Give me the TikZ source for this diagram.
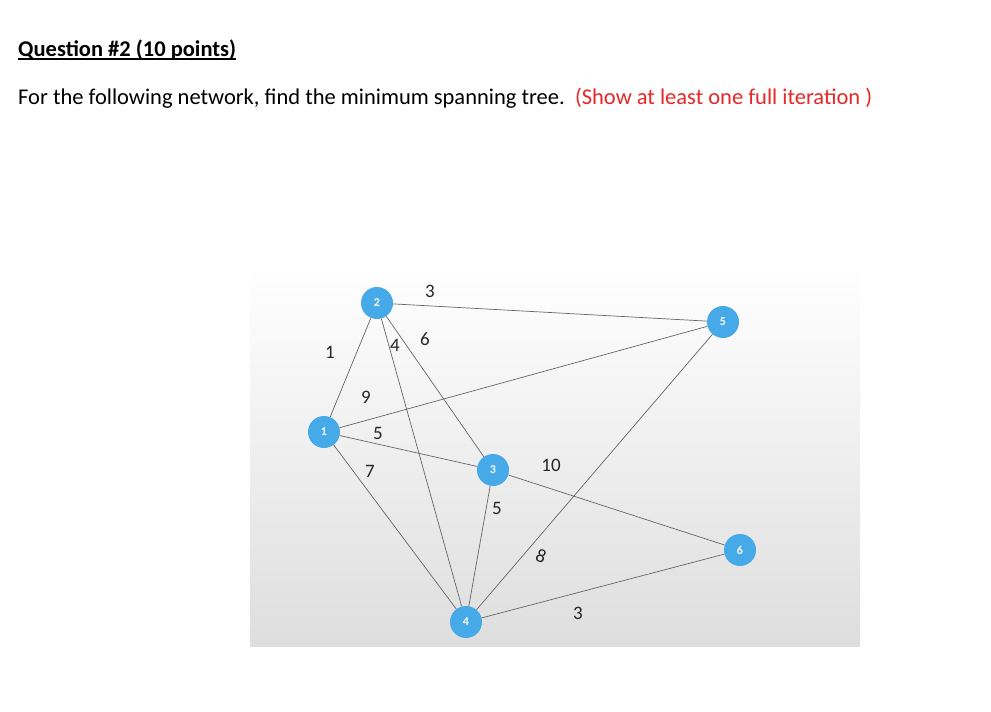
\documentclass[tikz,border=0pt]{standalone}
\usepackage{fontspec}
\setmainfont{Carlito}
\definecolor{nodeblue}{RGB}{70,170,232}
\definecolor{qred}{RGB}{230,40,40}
\begin{document}
\begin{tikzpicture}[x=1pt,y=-1pt,
  vtx/.style={circle,fill=nodeblue,minimum size=32pt,inner sep=0pt,text=white,font=\fontsize{12}{13}\selectfont\bfseries},
  wt/.style={font=\fontsize{19}{20}\selectfont,text=black!85,inner sep=1pt},
  edge/.style={draw=black!60,line width=0.7pt}]
\useasboundingbox (0,0) rectangle (991,712);
\fill[white] (0,0) rectangle (991,712);
\shade[top color=white,bottom color=black!13] (250,265) rectangle (860,646);
\node[anchor=base west,font=\fontsize{22.5}{26}\selectfont\bfseries,inner sep=0pt] (t1) at (18,56) {Question \#2 (10 points)};
\draw[line width=1.2pt] ([yshift=-3pt]t1.base west) -- ([yshift=-3pt]t1.base east);
\node[anchor=base west,font=\fontsize{22.5}{26}\selectfont,inner sep=0pt] (t2) at (18,104) {For the following network, find the minimum spanning tree.\ \ \textcolor{qred}{(Show at least one full iteration )}};
\node[vtx] (n1) at (324,432) {1};
\node[vtx] (n2) at (377,303) {2};
\node[vtx] (n3) at (493,470) {3};
\node[vtx] (n4) at (466,622) {4};
\node[vtx] (n5) at (723,322) {5};
\node[vtx] (n6) at (740,550) {6};
\draw[edge] (n1)--(n2);
\draw[edge] (n2)--(n5);
\draw[edge] (n2)--(n4);
\draw[edge] (n2)--(n3);
\draw[edge] (n1)--(n5);
\draw[edge] (n1)--(n3);
\draw[edge] (n1)--(n4);
\draw[edge] (n3)--(n4);
\draw[edge] (n3)--(n6);
\draw[edge] (n4)--(n5);
\draw[edge] (n4)--(n6);
\node[wt] (w1) at (330,352) {1};
\node[wt] (w2) at (430,291) {3};
\node[wt] (w3) at (395,345) {4};
\node[wt] (w4) at (425,339) {6};
\node[wt] (w5) at (366,397) {9};
\node[wt] (w6) at (378,433) {5};
\node[wt] (w7) at (370,471) {7};
\node[wt] (w8) at (497,508) {5};
\node[wt] (w9) at (551,465) {10};
\node[wt,rotate=-20] (w10) at (541,556) {8};
\node[wt] (w11) at (578,613) {3};
\end{tikzpicture}
\end{document}
